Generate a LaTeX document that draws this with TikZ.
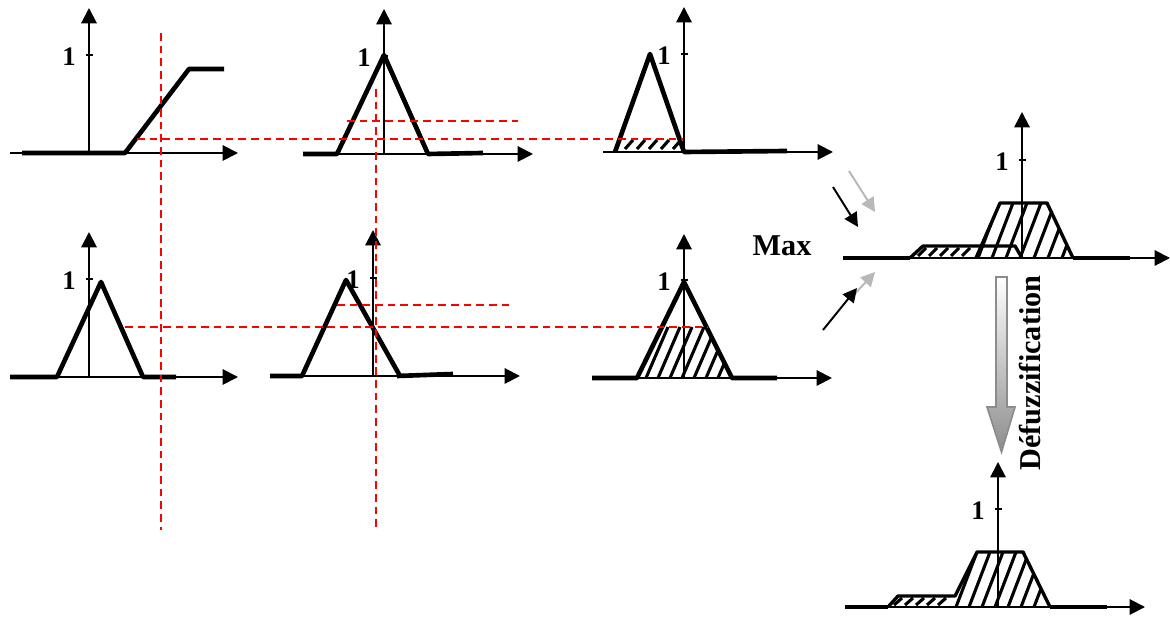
\documentclass[tikz,border=0pt]{standalone}
\usepackage{fontspec}
\setmainfont{Liberation Serif}
\usetikzlibrary{arrows.meta}

\begin{document}
\begin{tikzpicture}[
    x=0.025cm, y=0.025cm,
    axis/.style={-{Triangle[length=11pt,width=11pt]}, line width=1.4pt},
    tick/.style={line width=1.4pt},
    one/.style={anchor=east, inner sep=0pt, font=\fontsize{19}{20}\selectfont\bfseries},
    mf/.style={line width=3.3pt, line join=round},
    outline/.style={line width=2.4pt, line join=round},
    hatch/.style={line width=2.2pt},
    cut/.style={red, line width=1pt, dash pattern=on 5.5pt off 3.5pt},
    link/.style={-{Triangle[length=10pt,width=10pt]}, line width=1.4pt},
    linkgray/.style={link, black!28},
    big/.style={font=\fontsize{21.5}{24}\selectfont\bfseries, inner sep=0pt}
]
\useasboundingbox (0,0) rectangle (1170,617);
%
\begin{scope}[shift={(89,464)}]
\draw[axis] (-79,0) -- (149,0);
\draw[axis] (0,0) -- (0,145);
\draw[tick] (-3,98) -- (4,98);
\node[one] (oneA) at (-13,96) {1};
\draw[mf] (-67,0) -- (36,0) -- (100,84) -- (135,84);
\end{scope}

%
\begin{scope}[shift={(384,463)}]
\draw[axis] (-81,0) -- (149,0);
\draw[axis] (0,0) -- (0,145);
\draw[tick] (-3,98) -- (4,98);
\node[one] (oneB) at (-13,96) {1};
\draw[mf] (-81,0) -- (-47,0) -- (0,99) -- (44,0) -- (99,1);
\end{scope}

%
\begin{scope}[shift={(684,465)}]
\draw[axis] (-81,0) -- (149,0);
\draw[axis] (0,0) -- (0,145);
\draw[tick] (-3,98) -- (4,98);
\node[one] (oneC) at (-13,96) {1};
\draw[mf] (-69,0) -- (-34,98) -- (0,0) -- (103,1);
\foreach \b in {-59,-47,...,-11}
    \draw[hatch] (\b,3) -- ++(8,9);
\end{scope}

%
\begin{scope}[shift={(89,240)}]
\draw[axis] (-79,0) -- (149,0);
\draw[axis] (0,0) -- (0,145);
\draw[tick] (-3,98) -- (4,98);
\node[one] (oneD) at (-13,96) {1};
\draw[mf] (-79,0) -- (-32,0) -- (12,95) -- (54,0) -- (87,0);
\end{scope}

%
\begin{scope}[shift={(373,241)}]
\draw[axis] (-103,0) -- (147,0);
\draw[axis] (0,0) -- (0,146);
\draw[tick] (-3,98) -- (4,98);
\node[one] (oneE) at (-13,96) {1};
\draw[mf] (-103,0) -- (-71,0) -- (-27,96) -- (27,0);
\draw[mf] (24,0) -- (80,2);
\end{scope}

%
\begin{scope}[shift={(684,239)}]
\draw[axis] (-92,0) -- (148,0);
\draw[axis] (0,0) -- (0,144);
\draw[tick] (-3,98) -- (4,98);
\node[one] (oneF) at (-13,96) {1};
\draw[mf] (-92,0) -- (-47,0) -- (0,96) -- (48,0) -- (93,0);
\begin{scope}
\clip (-47,0) -- (0,96) -- (48,0) -- cycle;
\clip (-60,0) rectangle (60,51);
\foreach \b in {-50,-38,...,46}
    \draw[hatch] (\b,0) -- ++(22,51);
\end{scope}
\end{scope}

%
\node[big] (maxlbl) at (782,371) {Max};
\coordinate (blackA) at (833,430);
\coordinate (blackAend) at (858,390);
\coordinate (grayA) at (849,446);
\coordinate (grayAend) at (875,405);
\coordinate (blackB) at (823,287);
\coordinate (blackBend) at (857,329);
\coordinate (grayB) at (852,320);
\coordinate (grayBend) at (875,345);
\draw[linkgray] (grayA) -- (grayAend);
\draw[link] (blackA) -- (blackAend);
\draw[linkgray] (grayB) -- (grayBend);
\draw[link] (blackB) -- (blackBend);

%
\begin{scope}[shift={(1022,359)}]
\draw[axis] (-179,0) -- (148,0);
\draw[axis] (0,0) -- (0,146);
\draw[tick] (-3,98) -- (4,98);
\node[one] (oneG) at (-13,96) {1};
\draw[mf] (-179,0) -- (-112,0);
\draw[mf] (51,0) -- (108,0);
\draw[outline] (-112,0) -- (-99,12) -- (-7,12) -- (0,0);
\draw[outline] (-46,0) -- (-22,55) -- (25,55) -- (51,0);
\foreach \b in {-104,-93,...,-58}
    \draw[hatch] (\b,2) -- ++(8,8);
\begin{scope}
\clip (-52,0) -- (-52,12) -- (-41,12) -- (-22,55) -- (25,55) -- (51,0) -- cycle;
\foreach \b in {-58,-44,...,50}
    \draw[hatch] (\b,0) -- ++(21,55);
\end{scope}
\end{scope}

%
\shade[top color=white, bottom color=black!45, draw=black!45, line width=1.2pt]
    (996,340) -- (1007,340) -- (1007,210) -- (1015,210) -- (1001.5,165)
    -- (987,210) -- (996,210) -- cycle;
\node[big, rotate=90] (defuzz) at (1030,244) {Défuzzification};

%
\begin{scope}[shift={(998,10)}]
\draw[axis] (-153,0) -- (147,0);
\draw[axis] (0,0) -- (0,145);
\draw[tick] (-3,98) -- (4,98);
\node[one] (oneH) at (-13,96) {1};
\draw[mf] (-153,0) -- (-110,0);
\draw[mf] (52,0) -- (109,0);
\draw[outline] (-110,0) -- (-100,11) -- (-43,11) -- (-21,55) -- (25,55) -- (52,0);
\foreach \b in {-104,-93,...,-53}
    \draw[hatch] (\b,2) -- ++(8,7);
\begin{scope}
\clip (-50,0) -- (-50,11) -- (-43,11) -- (-21,55) -- (25,55) -- (52,0) -- cycle;
\foreach \b in {-55,-42,...,45}
    \draw[hatch] (\b,0) -- ++(21,55);
\end{scope}
\end{scope}

%
\draw[cut] (161,584) -- (161,87);
\draw[cut] (376,528) -- (376,87);
\draw[cut] (137,478) -- (683,478);
\draw[cut] (347,496) -- (518,496);
\draw[cut] (125,290) -- (708,290);
\draw[cut] (337,312) -- (510,312);
\end{tikzpicture}
\end{document}
